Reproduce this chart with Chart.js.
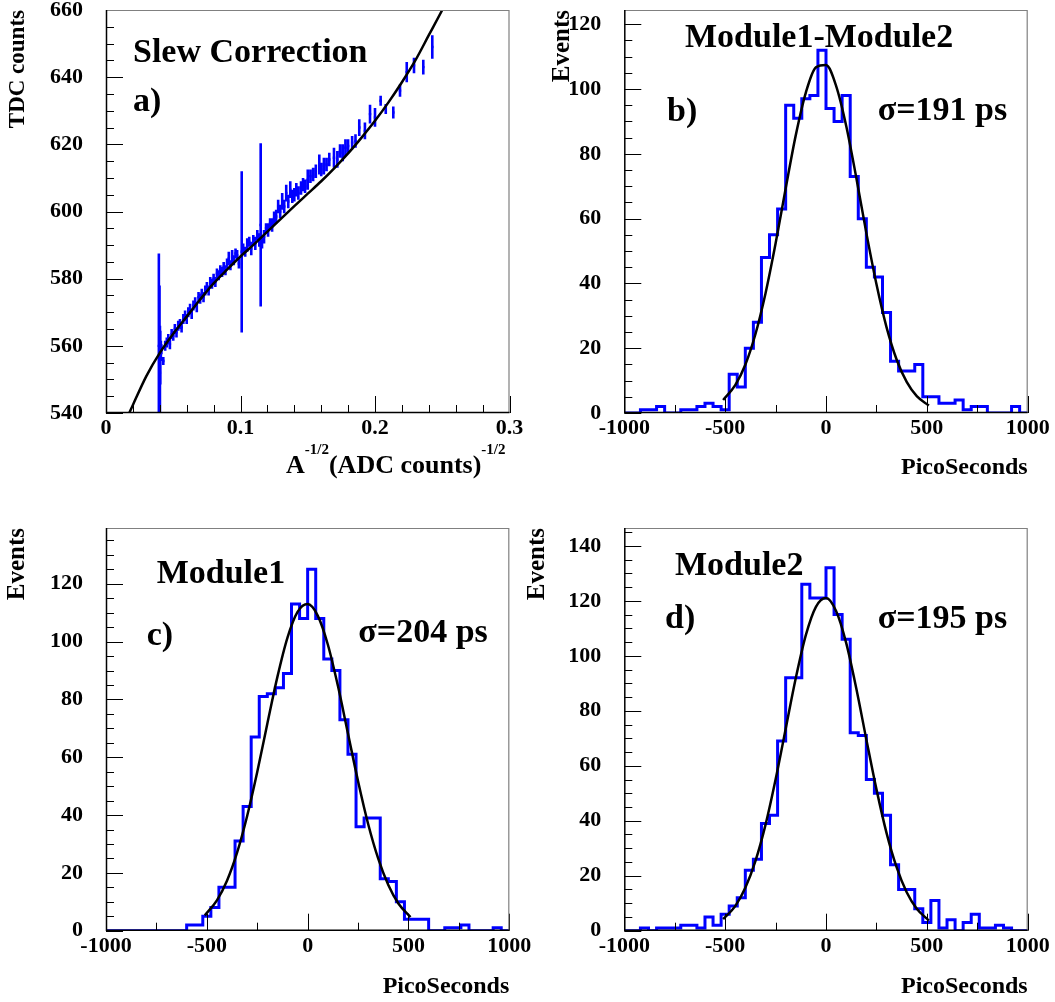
<!DOCTYPE html>
<html>
<head>
<meta charset="utf-8">
<title>TOF timing resolution</title>
<script src="https://cdn.jsdelivr.net/npm/chart.js@4.4.1/dist/chart.umd.min.js"></script>
<style>
  html, body { margin: 0; padding: 0; background: #ffffff; }
  #page { position: relative; width: 1055px; height: 1002px; overflow: hidden; background: #ffffff; }
  #page canvas { position: absolute; }
</style>
</head>
<body>
<div id="page">
  <canvas id="slew" width="535" height="490" style="left:0px;top:0px"></canvas>
  <canvas id="diff" width="540" height="490" style="left:515px;top:0px"></canvas>
  <canvas id="mod1" width="535" height="512" style="left:0px;top:490px"></canvas>
  <canvas id="mod2" width="540" height="512" style="left:515px;top:490px"></canvas>
</div>
<script>
// ---------- a) slew correction: mean TDC vs A^-1/2 ----------
const slewX = [0.0393,0.0398,0.0401,0.0404,0.0408,0.0412,0.0426,0.0440,0.0452,0.0463,
  0.0475,0.0488,0.0500,0.0512,0.0524,0.0537,0.0550,0.0562,0.0575,0.0588,
  0.0600,0.0612,0.0625,0.0637,0.0650,0.0663,0.0675,0.0688,0.0700,0.0712,
  0.0725,0.0738,0.0750,0.0763,0.0775,0.0788,0.0800,0.0813,0.0825,0.0838,
  0.0850,0.0863,0.0875,0.0888,0.0900,0.0913,0.0925,0.0938,0.0950,0.0963,
  0.0975,0.0988,0.1009,0.1020,0.1035,0.1050,0.1065,0.1080,0.1095,0.1110,
  0.1125,0.1140,0.1150,0.1160,0.1175,0.1190,0.1205,0.1220,0.1235,0.1250,
  0.1265,0.1280,0.1295,0.1310,0.1325,0.1340,0.1355,0.1370,0.1385,0.1400,
  0.1415,0.1430,0.1450,0.1465,0.1480,0.1500,0.1520,0.1540,0.1560,0.1586,
  0.1600,0.1620,0.1640,0.1660,0.1695,0.1720,0.1740,0.1760,0.1780,0.1800,
  0.1830,0.1855,0.1883,0.1925,0.1963,0.2000,0.2042,0.2080,0.2136,0.2186,
  0.2236,0.2290,0.2359,0.2426];
const slewY = [560.0,557.5,552.0,556.5,558.5,559.0,555.5,560.0,561.0,562.0,
  560.5,563.5,563.0,565.0,564.0,566.0,566.5,565.5,568.0,569.0,
  568.0,570.0,571.0,569.5,572.0,573.0,571.5,574.5,574.0,575.5,
  574.5,576.5,577.5,576.5,579.0,578.5,580.0,579.0,581.5,581.0,
  582.5,582.0,583.5,582.5,584.5,586.0,584.0,586.5,585.5,587.5,
  587.0,584.5,588.0,589.0,588.0,590.0,591.0,589.0,591.5,590.5,
  593.0,591.5,596.0,591.0,592.5,595.0,594.5,596.5,596.0,598.0,
  598.5,601.5,600.0,603.0,601.5,605.5,603.0,606.5,604.5,605.0,
  606.5,605.5,607.0,608.0,607.5,609.5,610.5,611.0,612.0,614.0,
  612.5,613.5,614.0,615.5,616.0,615.5,618.0,617.5,619.0,619.5,
  620.5,621.0,625.0,624.0,629.0,628.0,633.0,630.5,629.5,636.0,
  641.5,643.5,643.0,649.0];
const slewErr = [27.5,20.5,14.0,8.0,3.0,1.5,1.2,1.5,1.5,1.5,
  1.5,1.5,1.5,1.5,1.5,1.5,1.5,1.5,1.5,1.5,
  1.5,1.5,1.5,1.5,1.5,1.5,1.5,1.5,1.5,1.5,
  1.5,1.5,1.5,1.5,1.5,1.5,1.5,1.5,1.5,1.5,
  1.5,1.5,1.5,1.5,1.5,2.0,1.5,2.0,1.5,1.5,
  1.5,1.5,24.0,1.5,1.5,2.0,1.5,2.0,1.5,2.0,
  1.5,2.0,24.3,2.0,2.0,1.5,2.0,1.5,2.0,2.0,
  2.0,2.0,2.0,2.5,2.0,2.5,2.0,2.5,2.0,2.0,
  2.0,2.0,2.0,2.0,2.0,3.0,2.0,2.0,2.0,3.0,
  2.0,2.5,2.0,2.0,3.0,2.5,2.0,2.5,2.5,2.0,
  2.0,2.0,2.5,2.5,2.8,2.8,1.5,1.5,1.8,1.8,
  3.0,2.3,2.2,3.5];
// fitted slew curve
const slewFitX = [0.0173,0.02,0.03,0.04,0.05,0.06,0.07,0.08,0.09,0.10,0.11,0.12,0.13,
  0.14,0.15,0.16,0.17,0.18,0.19,0.20,0.21,0.22,0.23,0.24,0.25,0.2525];
const slewFitY = [540.0,542.4,551.0,557.9,563.6,568.7,573.8,578.6,582.7,586.6,590.2,594.0,597.8,
  601.6,605.3,609.0,613.0,617.3,622.0,627.0,632.5,638.5,645.0,652.5,660.0,662.0];
const slewXTicks = [0, 0.1, 0.2, 0.3];
const slewYTicks = [540, 560, 580, 600, 620, 640, 660];

// ---------- b), c), d) time-difference histograms (40 ps bins) ----------
const binEdges = [-1000,-960,-920,-880,-840,-800,-760,-720,-680,-640,-600,-560,-520,-480,-440,-400,
  -360,-320,-280,-240,-200,-160,-120,-80,-40,0,40,80,120,160,200,240,280,320,360,400,
  440,480,520,560,600,640,680,720,760,800,840,880,920,960,1000];
const diffCounts = [0,0,1,1,2,0,0,1,1,2, 3,2,1,12,8,20,28,48,55,63,
  95,91,97,98,112,94,90,98,73,60, 45,42,31,16,13,13,15,5,5,3,
  3,4,1,2,2,0,0,0,2,0];
const mod1Counts = [0,0,0,0,0,0,0,0,0,0, 2,2,5,8,15,15,31,43,67,81,
  82,84,89,113,108,125,108,94,90,73, 61,36,39,39,18,17,10,4,4,4,
  0,0,1,1,2,0,0,0,1,0];
const mod2Counts = [0,0,1,0,1,1,1,2,2,1, 5,2,6,9,12,22,26,39,42,69,
  92,92,126,121,121,132,115,106,72,71, 55,50,42,24,15,15,8,3,11,1,
  4,0,3,6,1,1,2,1,0,0];
// gaussian fit curves sampled along the time axis
const fitX = [-510,-450,-400,-350,-300,-250,-200,-150,-100,-50,0,50,100,150,200,250,300,350,400,450,510];
const diffFit = [4.0,8.6,14.9,24.3,36.9,52.3,69.3,85.7,98.9,106.7,107.4,101.0,88.7,72.7,55.6,39.8,26.5,16.5,9.6,5.2,2.3];
const mod1Fit = [5.3,10.5,17.3,27.0,39.7,54.9,71.6,87.8,101.4,110.3,113.0,109.0,99.0,84.7,68.2,51.7,36.9,24.9,15.8,9.4,4.7];
const mod2Fit = [4.2,8.95,15.6,25.3,38.5,55.0,73.4,91.8,107.5,117.8,121.0,116.3,104.7,88.2,69.6,51.5,35.6,23.1,14.0,8.0,3.7];
const psTicks = [-1000, -500, 0, 500, 1000];
const eventTicks = [0, 20, 40, 60, 80, 100, 120];
const eventTicks140 = [0, 20, 40, 60, 80, 100, 120, 140];

const panelTitles = ['Slew Correction', 'Module1-Module2', 'Module1', 'Module2'];
const panelTags = ['a)', 'b)', 'c)', 'd)'];
const sigmaLabels = ['\u03c3=191 ps', '\u03c3=204 ps', '\u03c3=195 ps'];

// ---------- drawing helpers ----------
const FONT = "'Liberation Serif', 'Times New Roman', Times, serif";
const bold = s => `bold ${s}px ${FONT}`;
const BLUE = '#0000ff';
const TICK_SIZE = 22;

// inward ticks, box frame and panel annotations
function framePlugin(cfg) {
  return {
    id: 'frame',
    afterDatasetsDraw(chart) {
      const { ctx, chartArea: a, scales: { x, y } } = chart;
      ctx.save();
      ctx.strokeStyle = '#000';
      ctx.lineWidth = 1;
      ctx.beginPath();
      const nx = Math.round((x.max - x.min) / cfg.xMinor);
      for (let i = 0; i <= nx; i++) {
        const v = x.min + i * cfg.xMinor;
        const r = v / cfg.xMajor;
        const len = Math.abs(r - Math.round(r)) < 1e-6 ? cfg.majorLen : cfg.minorLen;
        const px = Math.round(x.getPixelForValue(v)) + 0.5;
        ctx.moveTo(px, a.bottom);
        ctx.lineTo(px, a.bottom - len);
      }
      const ny = Math.floor((y.max - y.min) / cfg.yMinor + 1e-6);
      for (let i = 0; i <= ny; i++) {
        const v = y.min + i * cfg.yMinor;
        const r = v / cfg.yMajor;
        const len = Math.abs(r - Math.round(r)) < 1e-6 ? cfg.majorLen : cfg.minorLen;
        const py = Math.round(y.getPixelForValue(v)) + 0.5;
        ctx.moveTo(a.left, py);
        ctx.lineTo(a.left + len, py);
      }
      ctx.stroke();
      // top and right edges of the box
      ctx.strokeStyle = '#808080';
      ctx.lineWidth = 1.2;
      ctx.beginPath();
      ctx.moveTo(a.left, a.top + 0.5);
      ctx.lineTo(a.right - 0.5, a.top + 0.5);
      ctx.lineTo(a.right - 0.5, a.bottom);
      ctx.stroke();
      // axis lines
      ctx.strokeStyle = '#000';
      ctx.lineWidth = 1.5;
      ctx.beginPath();
      ctx.moveTo(a.left + 0.5, a.top);
      ctx.lineTo(a.left + 0.5, a.bottom - 0.5);
      ctx.lineTo(a.right, a.bottom - 0.5);
      ctx.stroke();
      // annotations
      ctx.fillStyle = '#000';
      ctx.textAlign = 'left';
      ctx.textBaseline = 'alphabetic';
      (cfg.texts || []).forEach(t => {
        ctx.font = bold(t.size);
        ctx.fillText(t.text, t.x, t.y);
      });
      // axis title with superscripts, right-aligned under the axis
      if (cfg.richTitle) {
        const rt = cfg.richTitle;
        let total = 0;
        rt.parts.forEach(p => { ctx.font = bold(p.size); total += ctx.measureText(p.text).width; });
        let cx = a.right - rt.inset - total;
        rt.parts.forEach(p => {
          ctx.font = bold(p.size);
          ctx.fillText(p.text, cx, rt.baseline + p.rise);
          cx += ctx.measureText(p.text).width;
        });
      }
      ctx.restore();
    }
  };
}

// vertical error bars drawn through the chart scales
function errorBarPlugin(xs, ys, errs) {
  return {
    id: 'errorBars',
    beforeDatasetsDraw(chart) {
      const { ctx, chartArea: a, scales: { x, y } } = chart;
      ctx.save();
      ctx.beginPath();
      ctx.rect(a.left, a.top, a.right - a.left, a.bottom - a.top);
      ctx.clip();
      ctx.strokeStyle = BLUE;
      ctx.lineWidth = 2.6;
      ctx.beginPath();
      xs.forEach((xv, i) => {
        const px = x.getPixelForValue(xv);
        ctx.moveTo(px, y.getPixelForValue(ys[i] - errs[i]));
        ctx.lineTo(px, y.getPixelForValue(ys[i] + errs[i]));
      });
      ctx.stroke();
      ctx.restore();
    }
  };
}

function xAxis(min, max, ticks, fmt, height, title) {
  return {
    type: 'linear', position: 'bottom', min, max, bounds: 'data',
    afterBuildTicks: s => { s.ticks = ticks.map(v => ({ value: v })); },
    afterFit: s => { s.height = height; s.paddingLeft = 0; s.paddingRight = 0; },
    grid: { display: false, drawTicks: false },
    border: { display: false },
    ticks: { autoSkip: false, maxRotation: 0, minRotation: 0, padding: 2, color: '#000',
             font: { family: FONT, size: TICK_SIZE, weight: 'bold' }, callback: fmt },
    title: title || { display: false }
  };
}

function yAxis(min, max, ticks, width, title) {
  return {
    type: 'linear', position: 'left', min, max, bounds: 'data',
    afterBuildTicks: s => { s.ticks = ticks.map(v => ({ value: v })); },
    afterFit: s => { s.width = width; s.paddingTop = 0; s.paddingBottom = 0; },
    grid: { display: false, drawTicks: false },
    border: { display: false },
    ticks: { autoSkip: false, padding: 23, color: '#000',
             font: { family: FONT, size: TICK_SIZE, weight: 'bold' }, callback: v => String(v) },
    title
  };
}

const baseOptions = (padTop, padRight) => ({
  responsive: false, animation: false, devicePixelRatio: 1, events: [],
  layout: { padding: { left: 0, top: padTop, right: padRight, bottom: 0 } },
  plugins: { legend: { display: false }, tooltip: { enabled: false } }
});

// ---------- a) ----------
new Chart(document.getElementById('slew'), {
  type: 'scatter',
  data: {
    datasets: [
      { type: 'line', data: slewFitX.map((v, i) => ({ x: v, y: slewFitY[i] })),
        borderColor: '#000', borderWidth: 2.5, pointRadius: 0, fill: false,
        cubicInterpolationMode: 'monotone', order: 0 },
      { type: 'scatter', data: slewX.map((v, i) => ({ x: v, y: slewY[i] })),
        pointStyle: 'rect', pointRadius: 1.7, backgroundColor: BLUE, borderWidth: 0, order: 1 }
    ]
  },
  options: Object.assign(baseOptions(10, 25.5), {
    scales: {
      x: xAxis(0, 0.3, slewXTicks, v => (v === 0 ? '0' : v.toFixed(1)), 77),
      y: yAxis(540, 660, slewYTicks, 106, {
        display: true, text: 'TDC counts', align: 'end', color: '#000',
        font: { family: FONT, size: 23, weight: 'bold' }, padding: { top: 4, bottom: 0 } })
    }
  }),
  plugins: [
    errorBarPlugin(slewX, slewY, slewErr),
    framePlugin({
      xMajor: 0.1, xMinor: 0.02, yMajor: 20, yMinor: 5, majorLen: 17, minorLen: 8,
      texts: [
        { text: panelTitles[0], x: 133, y: 62, size: 34 },
        { text: panelTags[0], x: 133, y: 111, size: 34 }
      ],
      richTitle: {
        baseline: 473, inset: 4,
        parts: [
          { text: 'A', size: 26, rise: 0 },
          { text: '-1/2', size: 15, rise: -19 },
          { text: '(ADC counts)', size: 26, rise: 0 },
          { text: '-1/2', size: 15, rise: -19 }
        ]
      }
    })
  ]
});

// ---------- histogram panels ----------
function histChart(id, counts, fit, yMax, yTicks, g, texts) {
  const histPts = binEdges.map((e, i) => ({ x: e, y: counts[Math.min(i, counts.length - 1)] }));
  const fitPts = fitX.map((v, i) => ({ x: v, y: fit[i] }));
  return new Chart(document.getElementById(id), {
    type: 'scatter',
    data: {
      datasets: [
        { type: 'line', data: fitPts, borderColor: '#000', borderWidth: 2.5, pointRadius: 0,
          fill: false, cubicInterpolationMode: 'monotone', order: 0 },
        { type: 'line', data: histPts, borderColor: BLUE, borderWidth: 3, pointRadius: 0,
          fill: false, stepped: true, order: 1 }
      ]
    },
    options: Object.assign(baseOptions(g.top, g.right), {
      scales: {
        x: xAxis(-1000, 1000, psTicks, v => String(v), g.xHeight, {
          display: true, text: 'PicoSeconds', align: 'end', color: '#000',
          font: { family: FONT, size: 24, weight: 'bold' }, padding: { top: 0, bottom: g.xTitlePad } }),
        y: yAxis(0, yMax, yTicks, g.yWidth, {
          display: true, text: 'Events', align: 'end', color: '#000',
          font: { family: FONT, size: 25, weight: 'bold' }, padding: { top: g.yTitlePad, bottom: 0 } })
      }
    }),
    plugins: [
      framePlugin({ xMajor: 500, xMinor: 250, yMajor: 20, yMinor: 5, majorLen: 17, minorLen: 8, texts })
    ]
  });
}

// b) Module1 - Module2
histChart('diff', diffCounts, diffFit, 124.4, eventTicks,
  { top: 10, right: 27.3, yWidth: 109.3, xHeight: 77, xTitlePad: 7.6, yTitlePad: 33 },
  [
    { text: panelTitles[1], x: 170, y: 47, size: 34 },
    { text: panelTags[1], x: 152, y: 121, size: 34 },
    { text: sigmaLabels[0], x: 362.7, y: 120, size: 34 }
  ]);

// c) Module1
histChart('mod1', mod1Counts, mod1Fit, 139.3, eventTicks,
  { top: 38, right: 25.7, yWidth: 106, xHeight: 71.3, xTitlePad: 0.6, yTitlePad: 3 },
  [
    { text: panelTitles[2], x: 156.7, y: 93.3, size: 34 },
    { text: panelTags[2], x: 146.7, y: 155, size: 34 },
    { text: sigmaLabels[1], x: 358.3, y: 151.7, size: 34 }
  ]);

// d) Module2
histChart('mod2', mod2Counts, mod2Fit, 146.5, eventTicks140,
  { top: 38, right: 27.3, yWidth: 109.3, xHeight: 71.3, xTitlePad: 0.6, yTitlePad: 8 },
  [
    { text: panelTitles[3], x: 160, y: 85, size: 34 },
    { text: panelTags[3], x: 150, y: 138.3, size: 34 },
    { text: sigmaLabels[2], x: 362.7, y: 138.3, size: 34 }
  ]);
</script>
</body>
</html>
